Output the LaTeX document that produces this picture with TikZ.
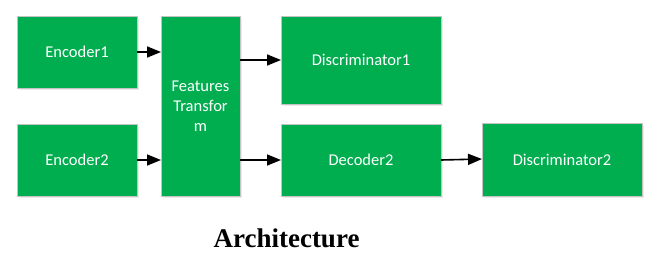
\documentclass[tikz,border=0pt]{standalone}
\usepackage{fontspec}
\setmainfont{Carlito}
\newfontfamily\titlefont{Liberation Serif}
\usetikzlibrary{arrows.meta,shadows}
\definecolor{blockgreen}{HTML}{00AE50}
\definecolor{blockedge}{HTML}{C4C4C4}
\begin{document}
\begin{tikzpicture}[x=1pt,y=-1pt,
  block/.style={draw=blockedge,line width=1pt,fill=blockgreen,text=white,
    font=\fontsize{16.5}{20}\selectfont,align=center,anchor=north west,
    inner sep=0pt,outer sep=0pt,
    drop shadow={shadow xshift=1.5pt,shadow yshift=-1.5pt,fill=black!12,opacity=0.6}},
  link/.style={line width=1.6pt,-{Triangle[length=14pt,width=11pt]}}]
\useasboundingbox (0,0) rectangle (666,258);
\node[block,minimum width=120pt,minimum height=72pt] (enc1) at (17,16) {Encoder1};
\node[block,minimum width=120pt,minimum height=72pt] (enc2) at (17,124) {Encoder2};
\node[block,minimum width=79pt,minimum height=180pt] (feat) at (161,16) {};
\node[text=white,font=\fontsize{16.5}{20}\selectfont,align=center] (feattext) at (200.5,106) {Features\\Transfor\\m};
\node[block,minimum width=160pt,minimum height=88pt] (dis1) at (281,16) {Discriminator1};
\node[block,minimum width=160pt,minimum height=72pt] (dec2) at (281,124) {Decoder2};
\node[block,minimum width=160pt,minimum height=73pt] (dis2) at (482,123) {Discriminator2};
\node[font=\titlefont\bfseries\fontsize{27}{31}\selectfont] (title) at (286.5,238) {Architecture};
\draw[link] (enc1.east |- 0,52) -- (feat.west |- 0,52);
\draw[link] (enc2.east |- 0,160) -- (feat.west |- 0,160);
\draw[link] (feat.east |- 0,60) -- (dis1.west |- 0,60);
\draw[link] (feat.east |- 0,160) -- (dec2.west |- 0,160);
\draw[link] (dec2.east |- 0,160) -- (dis2.west |- 0,159);
\end{tikzpicture}
\end{document}
